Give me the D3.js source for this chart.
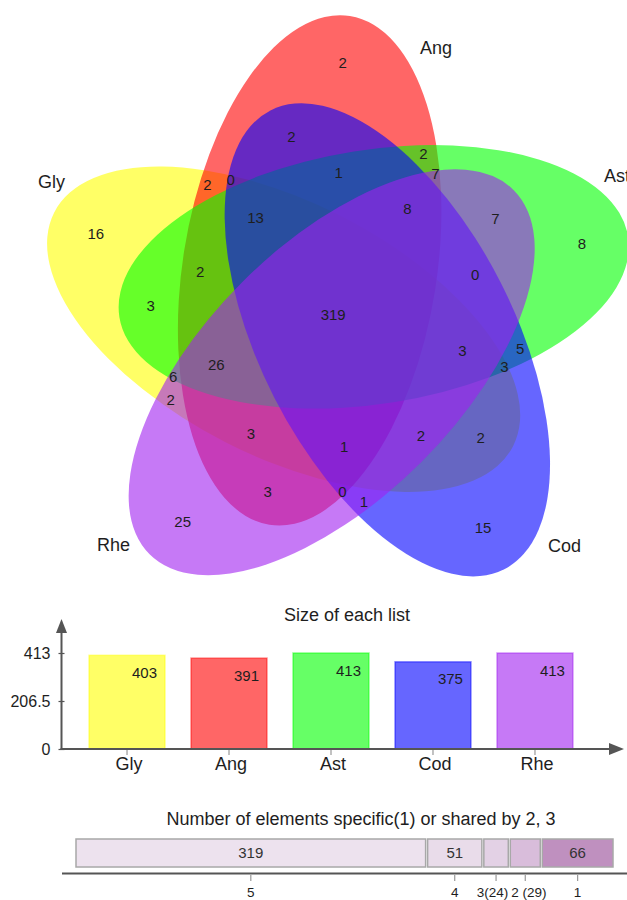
<!DOCTYPE html>
<html>
<head>
<meta charset="utf-8">
<script src="https://cdn.jsdelivr.net/npm/d3@7"></script>
<style>
  body { margin: 0; background: #ffffff; }
  svg { display: block; font-family: "Liberation Sans", Arial, sans-serif; }
</style>
</head>
<body>
<svg id="chart" width="627" height="900"></svg>
<script>
// ---- Data -------------------------------------------------------------
// Lists compared in the five-set Venn diagram (also the drawing order)
const listNames = ["Gly", "Ang", "Ast", "Cod", "Rhe"];

// Exclusive regions of the diagram, keyed by the lists that share them
const regionSets = [
  "Gly", "Ang", "Ast", "Cod", "Rhe",
  "Ang&Cod", "Ast&Rhe", "Cod&Gly", "Rhe&Ang", "Gly&Ast",
  "Ang&Gly", "Ast&Ang", "Cod&Ast", "Rhe&Cod", "Gly&Rhe",
  "Ang&Ast&Cod", "Ast&Cod&Rhe", "Cod&Rhe&Gly", "Rhe&Gly&Ang", "Gly&Ang&Ast",
  "Ang&Cod&Gly", "Ast&Rhe&Ang", "Cod&Gly&Ast", "Rhe&Ang&Cod", "Gly&Ast&Rhe",
  "Gly&Ang&Ast&Cod", "Ang&Ast&Cod&Rhe", "Gly&Ast&Cod&Rhe", "Gly&Ang&Cod&Rhe", "Gly&Ang&Ast&Rhe",
  "Gly&Ang&Ast&Cod&Rhe"
];
const regionCounts = [
  16, 2, 8, 15, 25,
  2, 7, 2, 3, 3,
  2, 2, 5, 1, 2,
  1, 0, 2, 3, 2,
  0, 7, 3, 0, 6,
  13, 8, 3, 1, 26,
  319
];

// Sharing levels shown in the bottom strip (highest first) and their axis labels
const sharingLevels = [5, 4, 3, 2, 1];
const sharingTickLabels = ["5", "4", "3(24)", "2 (29)", "1"];

// ---- Styles -------------------------------------------------------------
const listColors = ["#ffff00", "#ff0000", "#00ff00", "#0000ff", "#a020f0"];
const levelColors = ["#ede2ee", "#e9dcea", "#e3d1e5", "#d9bddb", "#bf90bf"];
const axisColor = "#555555";
const textColor = "#1e1e1e";

// ---- Derived values -----------------------------------------------------
const regions = regionSets.map((key, i) => ({ sets: key.split("&"), count: regionCounts[i] }));
const listSizes = listNames.map(name =>
  d3.sum(regions.filter(r => r.sets.includes(name)), r => r.count));
const levelTotals = sharingLevels.map(level =>
  d3.sum(regions.filter(r => r.sets.length === level), r => r.count));

const svg = d3.select("#chart");
const deg = Math.PI / 180;

// ---- Venn diagram -------------------------------------------------------
// Five congruent ellipses placed with five-fold rotational symmetry.
const venn = { cx: 337.2, cy: 317.7, offset: 54.8, offsetAngle: 329.8, tilt: 9, rx: 127, ry: 257.5 };
const clockOrder = ["Ang", "Ast", "Cod", "Rhe", "Gly"]; // clockwise from 12 o'clock

function polar(angleDeg, r) {
  return [venn.cx + r * Math.sin(angleDeg * deg), venn.cy - r * Math.cos(angleDeg * deg)];
}

const vennG = svg.append("g").attr("class", "venn");

vennG.selectAll("ellipse")
  .data(listNames.map((name, i) => ({ name, color: listColors[i], slot: clockOrder.indexOf(name) })))
  .join("ellipse")
  .attr("rx", venn.rx)
  .attr("ry", venn.ry)
  .attr("transform", d => {
    const [x, y] = polar(venn.offsetAngle + 72 * d.slot, venn.offset);
    return `translate(${x},${y}) rotate(${venn.tilt + 72 * d.slot})`;
  })
  .attr("fill", d => d.color)
  .attr("fill-opacity", 0.6);

// Label spots for the regions around the 12 o'clock list; the others are rotations.
// key: bitmask over clockOrder slots -> [angle (deg, clockwise from up), radius]
const labelSpots = new Map([
  [0b00001, [1.2, 255.6]],
  [0b00101, [345.8, 186.9]],
  [0b10001, [315.7, 185.7]],
  [0b00111, [0.6, 144.7]],
  [0b10101, [322.3, 174.2]],
  [0b10111, [320.9, 129.5]]
]);

function rotateMask(mask, k) {
  let out = 0;
  for (let j = 0; j < 5; j++) if ((mask >> j) & 1) out |= 1 << ((j + k) % 5);
  return out;
}

function regionPosition(sets) {
  const mask = sets.reduce((m, s) => m | (1 << clockOrder.indexOf(s)), 0);
  if (mask === 0b11111) return [venn.cx - 4, venn.cy - 3];
  for (const [tmpl, [a, r]] of labelSpots) {
    for (let k = 0; k < 5; k++) {
      if (rotateMask(tmpl, k) === mask) return polar(a + 72 * k, r);
    }
  }
  return [venn.cx, venn.cy];
}

vennG.selectAll("text.count")
  .data(regions)
  .join("text")
  .attr("class", "count")
  .attr("x", d => regionPosition(d.sets)[0])
  .attr("y", d => regionPosition(d.sets)[1])
  .attr("dy", "0.36em")
  .attr("text-anchor", "middle")
  .attr("font-size", 15)
  .attr("fill", textColor)
  .text(d => d.count);

// List names beside the ellipses
const nameSpots = { Gly: [38, 188], Ang: [420, 54], Ast: [604, 182], Rhe: [97, 551], Cod: [548, 552] };
vennG.selectAll("text.name")
  .data(listNames)
  .join("text")
  .attr("class", "name")
  .attr("x", d => nameSpots[d][0])
  .attr("y", d => nameSpots[d][1])
  .attr("font-size", 18)
  .attr("fill", textColor)
  .text(d => d);

// ---- Size of each list ---------------------------------------------------
const bar = { left: 61.5, base: 749, top: 653 };
const x = d3.scaleBand().domain(listNames).range([62, 600]).paddingInner(0.255).paddingOuter(0.265);
const maxSize = d3.max(listSizes);
const y = d3.scaleLinear().domain([0, maxSize]).range([bar.base, bar.top]);

const barG = svg.append("g").attr("class", "sizes");

barG.append("text")
  .attr("x", 347).attr("y", 621)
  .attr("text-anchor", "middle")
  .attr("font-size", 18)
  .attr("fill", textColor)
  .text("Size of each list");

barG.selectAll("rect")
  .data(listNames.map((name, i) => ({ name, size: listSizes[i], color: listColors[i] })))
  .join("rect")
  .attr("x", d => x(d.name))
  .attr("y", d => y(d.size))
  .attr("width", x.bandwidth())
  .attr("height", d => y(0) - y(d.size))
  .attr("fill", d => d.color)
  .attr("fill-opacity", 0.6)
  .attr("stroke", d => d.color)
  .attr("stroke-opacity", 0.45)
  .attr("stroke-width", 1.5);

barG.selectAll("text.value")
  .data(listNames.map((name, i) => ({ name, size: listSizes[i] })))
  .join("text")
  .attr("class", "value")
  .attr("x", d => x(d.name) + x.bandwidth() - 8)
  .attr("y", d => y(d.size) + 22.5)
  .attr("text-anchor", "end")
  .attr("font-size", 15)
  .attr("fill", textColor)
  .text(d => d.size);

// y axis with arrow
const yAxis = barG.append("g")
  .attr("transform", `translate(${bar.left},0)`)
  .call(d3.axisLeft(y).tickValues([0, maxSize / 2, maxSize]).tickFormat(d3.format("~g")).tickSize(3).tickPadding(8));
yAxis.select(".domain").remove();
yAxis.selectAll(".tick line").attr("x1", -3).attr("x2", 3).attr("stroke", axisColor).attr("stroke-width", 1.2);
yAxis.selectAll(".tick text").attr("font-size", 16).attr("fill", textColor).attr("font-family", "Liberation Sans, Arial, sans-serif");

barG.append("line")
  .attr("x1", bar.left).attr("x2", bar.left).attr("y1", bar.base + 1).attr("y2", 632)
  .attr("stroke", axisColor).attr("stroke-width", 2);
barG.append("path")
  .attr("d", `M${bar.left - 5.5},633 L${bar.left + 5.5},633 L${bar.left},619 Z`)
  .attr("fill", axisColor);

// x axis with arrow
barG.append("line")
  .attr("x1", bar.left - 1).attr("x2", 610).attr("y1", bar.base).attr("y2", bar.base)
  .attr("stroke", axisColor).attr("stroke-width", 2);
barG.append("path")
  .attr("d", `M609,${bar.base - 6} L609,${bar.base + 6} L624,${bar.base} Z`)
  .attr("fill", axisColor);

barG.selectAll("line.xtick")
  .data(listNames)
  .join("line")
  .attr("class", "xtick")
  .attr("x1", d => x(d) + x.bandwidth() / 2)
  .attr("x2", d => x(d) + x.bandwidth() / 2)
  .attr("y1", bar.base + 1).attr("y2", bar.base + 6)
  .attr("stroke", "#999").attr("stroke-width", 1.2);

barG.selectAll("text.cat")
  .data(listNames)
  .join("text")
  .attr("class", "cat")
  .attr("x", d => x(d) + x.bandwidth() / 2 + 2)
  .attr("y", 770)
  .attr("text-anchor", "middle")
  .attr("font-size", 18)
  .attr("fill", textColor)
  .text(d => d);

// ---- Elements specific or shared ----------------------------------------
const stripG = svg.append("g").attr("class", "sharing");
const totalElements = d3.sum(levelTotals);
const xs = d3.scaleLinear().domain([0, totalElements]).range([75, 614]);
const starts = d3.cumsum([0, ...levelTotals]);
const segments = sharingLevels.map((level, i) => ({
  level, count: levelTotals[i], start: starts[i], end: starts[i + 1],
  color: levelColors[i], tick: sharingTickLabels[i]
}));
const mid = d => (xs(d.start) + xs(d.end)) / 2;

stripG.append("text")
  .attr("x", 361).attr("y", 825)
  .attr("text-anchor", "middle")
  .attr("font-size", 18)
  .attr("fill", textColor)
  .text("Number of elements specific(1) or shared by 2, 3");

stripG.selectAll("rect")
  .data(segments)
  .join("rect")
  .attr("x", d => xs(d.start) + 1)
  .attr("y", 839)
  .attr("width", d => xs(d.end) - xs(d.start) - 2)
  .attr("height", 28)
  .attr("fill", d => d.color)
  .attr("stroke", "#a8a8a8")
  .attr("stroke-width", 1.5);

stripG.selectAll("text.seg")
  .data(segments.filter(d => xs(d.end) - xs(d.start) > 40))
  .join("text")
  .attr("class", "seg")
  .attr("x", mid)
  .attr("y", 853)
  .attr("dy", "0.36em")
  .attr("text-anchor", "middle")
  .attr("font-size", 15)
  .attr("fill", "#333")
  .text(d => d.count);

stripG.append("line")
  .attr("x1", 62).attr("x2", 627).attr("y1", 873.5).attr("y2", 873.5)
  .attr("stroke", axisColor).attr("stroke-width", 2);

stripG.selectAll("line.tick")
  .data(segments)
  .join("line")
  .attr("class", "tick")
  .attr("x1", mid)
  .attr("x2", mid)
  .attr("y1", 875).attr("y2", 881)
  .attr("stroke", "#999").attr("stroke-width", 1.2);

const tickTexts = stripG.selectAll("text.tick")
  .data(segments)
  .join("text")
  .attr("class", "tick")
  .attr("x", mid)
  .attr("y", 897)
  .attr("text-anchor", "middle")
  .attr("font-size", 13.5)
  .attr("fill", textColor)
  .text(d => d.tick);

// Spread neighbouring tick labels apart where they would touch
const boxes = tickTexts.nodes().map((node, i) => {
  const w = node.getComputedTextLength();
  return { node, c: mid(segments[i]), w };
});
for (let pass = 0; pass < 4; pass++) {
  for (let i = 0; i < boxes.length - 1; i++) {
    const a = boxes[i], b = boxes[i + 1];
    const overlap = (a.c + a.w / 2 + 3) - (b.c - b.w / 2);
    if (overlap > 0) { a.c -= overlap / 2; b.c += overlap / 2; }
  }
}
boxes.forEach(b => d3.select(b.node).attr("x", b.c));
</script>
</body>
</html>
